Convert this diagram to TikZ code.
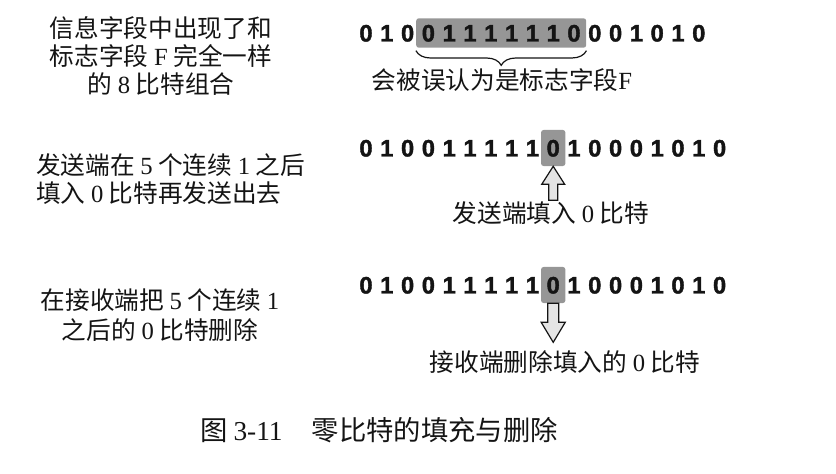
\documentclass[tikz,border=0pt]{standalone}
\usepackage{fontspec}
\setmainfont{Noto Sans CJK SC}
\newfontfamily\lat{Liberation Serif}
\newfontfamily\bitfont{Liberation Sans}[BoldFeatures={FakeBold=1.6}]
\usepackage{xcolor}
\usetikzlibrary{positioning, fit, backgrounds, calc, decorations.pathreplacing}
\definecolor{ink}{RGB}{20,20,20}
\definecolor{dots}{RGB}{150,150,150}
\definecolor{pale}{RGB}{228,228,228}

\begin{document}
\begin{tikzpicture}[x=0.75pt, y=-0.75pt,
    note/.style={font=\fontsize{18.5}{21}\selectfont, text=ink, inner sep=0pt, align=center},
    bit/.style={font=\bitfont\bfseries\fontsize{17.8}{20}\selectfont, text=ink,
                inner sep=0pt, text height=12.7pt, text depth=0pt},
    hilite/.style={fill=dots, rounded corners=2pt, inner xsep=4pt},
    fat/.style={draw=ink, fill=pale, line width=0.9pt, line join=miter},
    brace/.style={draw=ink, line width=0.9pt,
                  decorate, decoration={brace, amplitude=11pt, mirror}}
  ]
  \useasboundingbox (0,0) rectangle (836,474);

  % left column
  \node[note] (infoa) at (161,56) {信息字段中出现了和\\标志字段 {\lat F} 完全一样\\的 {\lat 8} 比特组合};
  \node[note, anchor=west, align=left] (infob) at (36,179)
    {发送端在 {\lat 5} 个连续 {\lat 1} 之后\\填入 {\lat 0} 比特再发送出去};
  \node[note] (infoc) at (160,315) {在接收端把 {\lat 5} 个连续 {\lat 1}\\[1.5pt]之后的 {\lat 0} 比特删除};

  % bit rows
  \foreach \b [count=\i] in {0,1,0,0,1,1,1,1,1,1,0,0,0,1,0,1,0}
    \node[bit] (a\i) at ({366+(\i-1)*20.8}, 33) {\b};
  \foreach \b [count=\i] in {0,1,0,0,1,1,1,1,1,0,1,0,0,0,1,0,1,0}
    \node[bit] (b\i) at ({366+(\i-1)*20.8}, 148) {\b};
  \foreach \b [count=\i] in {0,1,0,0,1,1,1,1,1,0,1,0,0,0,1,0,1,0}
    \node[bit] (c\i) at ({366+(\i-1)*20.8}, 285) {\b};

  \begin{scope}[on background layer]
    \node[hilite, fit=(a4)(a11), inner ysep=4.5pt] (hla) {};
    \node[hilite, fit=(b10), inner ysep=7pt] (hlb) {};
    \node[hilite, fit=(c10), inner ysep=7pt] (hlc) {};
  \end{scope}

  % flag look-alike
  \draw[brace] ([yshift=-2pt]hla.south west) -- ([yshift=-2pt]hla.south east);
  \node[note] (lbla) at (502,80) {会被误认为是标志字段{\lat F}};

  % stuffing at the sender
  \draw[fat] (hlb.south) -- ++(11.5,18) -- ++(-7,0) -- ++(0,16) -- ++(-9,0)
    -- ++(0,-16) -- ++(-7,0) -- cycle;
  \node[note] (lblb) at (551,213) {发送端填入 {\lat 0} 比特};

  % removal at the receiver
  \draw[fat] (hlc.south) ++(-5.5,0) -- ++(11,0) -- ++(0,19) -- ++(6.5,0)
    -- ++(-12,20) -- ++(-12,-20) -- ++(6.5,0) -- cycle;
  \node[note] (lblc) at (565,362) {接收端删除填入的 {\lat 0} 比特};

  \node[font=\fontsize{20.5}{24}\selectfont, text=ink] (cap) at (379,430)
    {图 {\lat 3-11}\hspace{22pt}零比特的填充与删除};
\end{tikzpicture}
\end{document}
